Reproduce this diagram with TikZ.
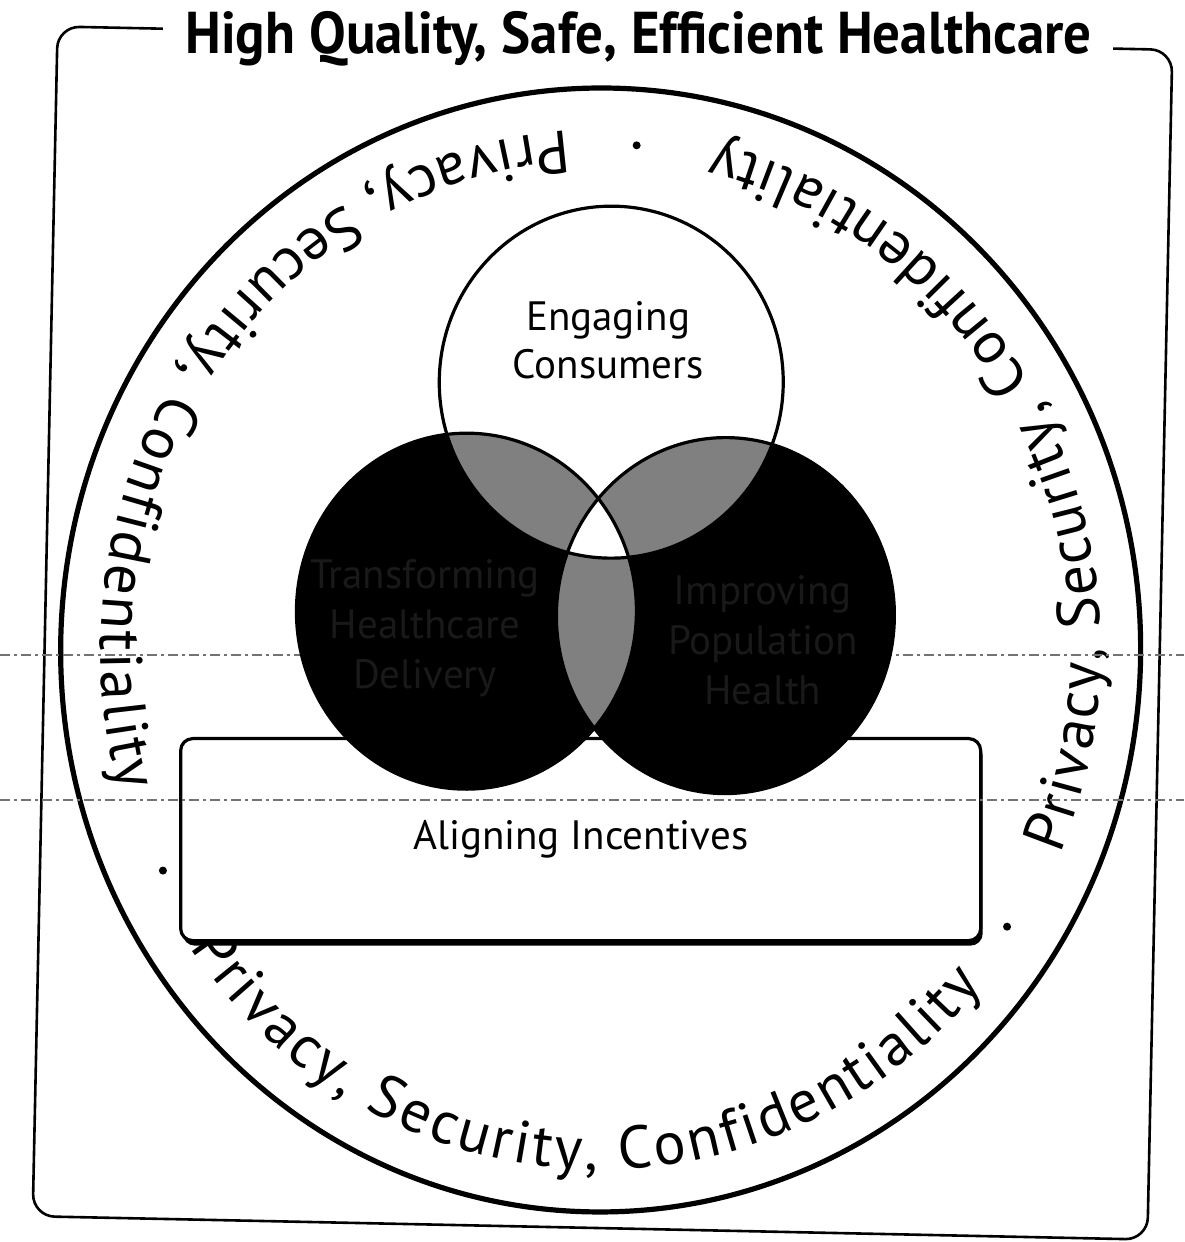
\documentclass[tikz,border=0pt]{standalone}
\usepackage{fontspec}
\usepackage{graphicx}
\setmainfont{PT Sans}
\usetikzlibrary{decorations.text,shadows}
\newcommand\ringfont{\fontsize{30}{30}\selectfont}
\def\vennL{(466,-614) ellipse [x radius=170, y radius=178]}
\def\vennR{(725,-613) ellipse [x radius=169, y radius=178]}
\def\vennT{(606,-382) ellipse [x radius=172, y radius=176]}
\begin{document}
\begin{tikzpicture}[x=0.5pt,y=0.5pt,
  framestyle/.style={line width=1.3pt, rounded corners=11pt},
  titlestyle/.style={fill=white, inner xsep=11pt, inner ysep=2pt,
     font=\fontsize{29.5}{29.5}\selectfont\bfseries},
  ringline/.style={line width=2.6pt},
  ringtext/.style={decorate, decoration={text along path, text align={fit to path},
     text={|\ringfont|Privacy, Security, Confidentiality}}},
  incbox/.style={draw, line width=1.6pt, rounded corners=6pt, fill=white,
     minimum width=400pt, minimum height=101pt,
     drop shadow={shadow xshift=1pt, shadow yshift=-2.5pt, fill=black, opacity=1},
     font=\fontsize{20.5}{24}\selectfont},
  artifact/.style={line width=0.6pt, black!55, dash pattern=on 5pt off 2pt on 1.5pt off 2pt},
  lens/.style={fill=black!50},
  vline/.style={line width=1.6pt},
  lighttext/.style={align=center, font=\fontsize{20.5}{24}\selectfont},
  darktext/.style={align=center, text=black!90, font=\fontsize{20.5}{25}\selectfont}]
\useasboundingbox (0,0) rectangle (1184,-1242);
\fill[white] (0,0) rectangle (1184,-1242);
\begin{scope}[rotate around={-1.2:(602,-633)}]
  % outer frame and title
  \draw[framestyle] (45,-38) rectangle (1160,-1228);
  \node[titlestyle] (title) at (626,-38) {\resizebox{453pt}{\height}{High Quality, Safe, Efficient Healthcare}};
  % big ring
  \draw[ringline] (601,-650) ellipse [x radius=540, y radius=562];
  \path[ringtext] ([shift={(601,-650)}]95:500 and 520) arc [start angle=95, end angle=197, x radius=500, y radius=520];
  \path[ringtext] ([shift={(601,-650)}]216:500 and 520) arc [start angle=216, end angle=321, x radius=500, y radius=520];
  \path[ringtext] ([shift={(601,-650)}]338:500 and 520) arc [start angle=338, end angle=438, x radius=500, y radius=520];
  \fill ([shift={(601,-650)}]87:486 and 506) circle [radius=4];
  \fill ([shift={(601,-650)}]207:486 and 506) circle [radius=4];
  \fill ([shift={(601,-650)}]328:486 and 506) circle [radius=4];
  % incentives box
  \node[incbox] (incent) at (585,-840) {Aligning Incentives};
\end{scope}
% scan fold lines
\draw[artifact] (0,-655) -- (1184,-655);
\draw[artifact] (0,-800) -- (1184,-800);
\begin{scope}[rotate around={-1.2:(602,-633)}]
  \fill[black] \vennL;
  \fill[black] \vennR;
  \fill[white] \vennT;
  \begin{scope}
    \clip \vennT;
    \fill[lens] \vennL;
    \fill[lens] \vennR;
  \end{scope}
  \begin{scope}
    \clip \vennL;
    \fill[lens] \vennR;
  \end{scope}
  \begin{scope}
    \clip \vennT;
    \clip \vennL;
    \fill[white] \vennR;
  \end{scope}
  \draw[vline] \vennL;
  \draw[vline] \vennR;
  \draw[vline] \vennT;
  \node[lighttext] (engage) at (602,-340) {Engaging\\Consumers};
  \node[darktext] (care) at (425,-632) {Transforming\\Healthcare\\Delivery};
  \node[darktext] (pop) at (763,-637) {Improving\\Population\\Health};
\end{scope}
\end{tikzpicture}
\end{document}
